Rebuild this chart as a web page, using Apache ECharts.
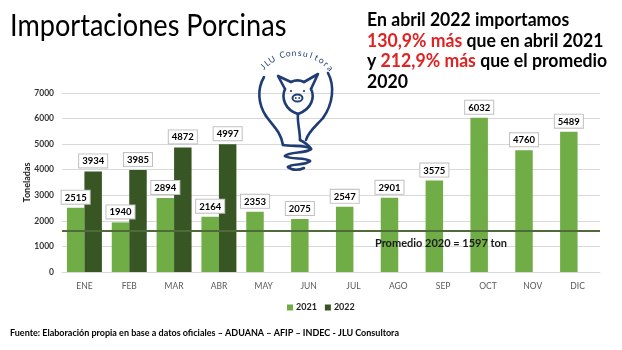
<!DOCTYPE html>
<html>
<head>
<meta charset="utf-8">
<script src="https://cdn.jsdelivr.net/npm/echarts@6/dist/echarts.min.js"></script>
<style>
  html, body { margin: 0; padding: 0; background: #fff; }
  #chart { width: 622px; height: 350px; }
</style>
</head>
<body>
<div id="chart"></div>
<script>
// Monthly pork imports (tonnes)
const months = ['ENE', 'FEB', 'MAR', 'ABR', 'MAY', 'JUN', 'JUL', 'AGO', 'SEP', 'OCT', 'NOV', 'DIC'];
const imports2021 = [2515, 1940, 2894, 2164, 2353, 2075, 2547, 2901, 3575, 6032, 4760, 5489];
const imports2022 = [3934, 3985, 4872, 4997];
const average2020 = 1597;
const yTicks = [0, 1000, 2000, 3000, 4000, 5000, 6000, 7000];

const NAVY = '#1f3c74';
const FONT = 'Lato, "Noto Sans", sans-serif';

// Curved "JLU Consultora" lettering around the logo
function arcText(str, cx, cy, r, startDeg, endDeg) {
  const out = [];
  const n = str.length;
  for (let i = 0; i < n; i++) {
    const deg = startDeg + (endDeg - startDeg) * i / (n - 1);
    const a = deg * Math.PI / 180;
    out.push({
      type: 'text',
      x: cx + r * Math.cos(a),
      y: cy + r * Math.sin(a),
      rotation: -(a + Math.PI / 2),
      style: {
        text: str[i], fill: NAVY, font: '8.5px ' + FONT,
        align: 'center', verticalAlign: 'middle'
      },
      z: 10
    });
  }
  return out;
}

const logoStroke = { stroke: NAVY, fill: 'none', lineWidth: 2.6, lineCap: 'round', lineJoin: 'round' };
function bez(x1, y1, c1x, c1y, c2x, c2y, x2, y2) {
  return {
    type: 'bezierCurve',
    shape: { x1: x1, y1: y1, cpx1: c1x, cpy1: c1y, cpx2: c2x, cpy2: c2y, x2: x2, y2: y2 },
    style: logoStroke, z: 10
  };
}
function poly(points) {
  return { type: 'polyline', shape: { points: points }, style: logoStroke, z: 10 };
}

const logo = [
  // bulb outline
  bez(264, 77, 257, 89, 258, 104, 266, 116),
  bez(266, 116, 273, 126, 281, 132, 283, 145),
  bez(328, 73, 335, 86, 333, 104, 323, 118),
  bez(323, 118, 315, 127, 308, 132, 306, 140),
  // pig head: ears, crown and cheeks
  poly([[285, 89], [278, 76], [291, 82]]),
  poly([[304, 82], [318, 74], [311, 89]]),
  bez(291, 82, 295, 80, 300, 80, 304, 82),
  bez(311, 89, 315, 97, 312, 109, 298, 114),
  bez(298, 114, 285, 110, 281, 98, 285, 89),
  // stem down to the spring
  bez(298, 114, 297, 122, 300, 130, 300, 140),
  bez(300, 140, 304, 142, 308, 144, 311, 149),
  // spring coils
  bez(283, 145, 292, 147, 306, 144, 311, 149),
  bez(311, 149, 306, 154, 290, 151, 285, 156),
  bez(285, 156, 291, 160, 305, 157, 310, 161),
  bez(310, 161, 305, 166, 292, 163, 288, 167),
  bez(288, 167, 292, 171, 300, 170, 304, 168),
  // snout and eyes
  { type: 'ellipse', shape: { cx: 297.5, cy: 98, rx: 5, ry: 3.6 }, style: { stroke: NAVY, fill: '#fff', lineWidth: 2 }, z: 10 },
  { type: 'circle', shape: { cx: 295.8, cy: 98, r: 0.9 }, style: { fill: NAVY }, z: 11 },
  { type: 'circle', shape: { cx: 299.2, cy: 98, r: 0.9 }, style: { fill: NAVY }, z: 11 },
  { type: 'circle', shape: { cx: 291, cy: 91, r: 1.1 }, style: { fill: NAVY }, z: 11 },
  { type: 'circle', shape: { cx: 304, cy: 91, r: 1.1 }, style: { fill: NAVY }, z: 11 }
].concat(arcText('JLU Consultora', 296, 99, 46, -136, -42));

const headline = [
  {
    type: 'text', x: 10, y: 10,
    style: { text: 'Importaciones Porcinas', fill: '#000', font: '31px ' + FONT },
    scaleX: 0.875, z: 10
  },
  {
    type: 'text', x: 367, y: 10,
    style: {
      text: 'En abril 2022 importamos\n{r|130,9% más} que en abril 2021\ny {r|212,9% más} que el promedio\n2020',
      fill: '#000', font: 'bold 18px ' + FONT, lineHeight: 20.5,
      rich: { r: { fill: '#e02222', font: 'bold 18px ' + FONT, lineHeight: 20.5 } }
    },
    scaleX: 0.98, z: 10
  },
  {
    type: 'text', x: 10, y: 329,
    style: {
      text: 'Fuente: Elaboración propia en base a datos oficiales – ADUANA – AFIP – INDEC - JLU Consultora',
      fill: '#000', font: 'bold 9px ' + FONT
    },
    z: 10
  }
];

const valueLabel = {
  show: true, position: 'top', distance: 4,
  color: '#000', fontWeight: 'bold', fontSize: 9.5, fontFamily: FONT,
  backgroundColor: '#fff', borderColor: '#c0c0c0', borderWidth: 1,
  padding: [2, 3, 1, 3]
};

const chart = echarts.init(document.getElementById('chart'), null, { renderer: 'canvas' });
chart.setOption({
  animation: false,
  backgroundColor: '#fff',
  graphic: headline.concat(logo),
  grid: { left: 62, right: 22, top: 93, bottom: 78 },
  legend: {
    left: 282, top: 298, itemWidth: 6, itemHeight: 6, itemGap: 8,
    icon: 'rect',
    textStyle: { fontSize: 9, fontWeight: 'bold', fontFamily: FONT, color: '#222', padding: [0, 0, 0, -2] },
    data: ['2021', '2022']
  },
  xAxis: {
    type: 'category', data: months,
    axisLine: { lineStyle: { color: '#d9d9d9' } },
    axisTick: { show: false },
    axisLabel: { color: '#595959', fontSize: 8.5, fontFamily: FONT, margin: 10 }
  },
  yAxis: {
    type: 'value', min: yTicks[0], max: yTicks[yTicks.length - 1], interval: yTicks[1] - yTicks[0],
    name: 'Toneladas', nameLocation: 'middle', nameGap: 30, nameMoveOverlap: false,
    nameTextStyle: { fontSize: 9, fontWeight: 'bold', fontFamily: FONT, color: '#222' },
    axisLabel: {
      color: '#333', fontSize: 8.5, fontWeight: 'bold', fontFamily: FONT, margin: 8,
      formatter: function (v) { return String(v); }
    },
    splitLine: { lineStyle: { color: '#d9d9d9' } }
  },
  series: [
    {
      name: '2021', type: 'bar', data: imports2021,
      barGap: '0%', barCategoryGap: '22%',
      itemStyle: { color: '#70ad47' },
      label: valueLabel,
      markLine: {
        silent: true, symbol: ['none', 'none'],
        lineStyle: { color: '#4f6b3a', width: 2, type: 'solid' },
        label: {
          show: true, position: 'insideMiddleBottom', offset: [110, 2],
          formatter: 'Promedio 2020 = {c} ton',
          color: '#1a1a1a', fontSize: 11, fontWeight: 'bold', fontFamily: FONT
        },
        data: [{ yAxis: average2020 }]
      },
      z: 2
    },
    {
      name: '2022', type: 'bar', data: imports2022,
      itemStyle: { color: '#375623' },
      label: valueLabel,
      z: 2
    }
  ]
});
</script>
</body>
</html>
